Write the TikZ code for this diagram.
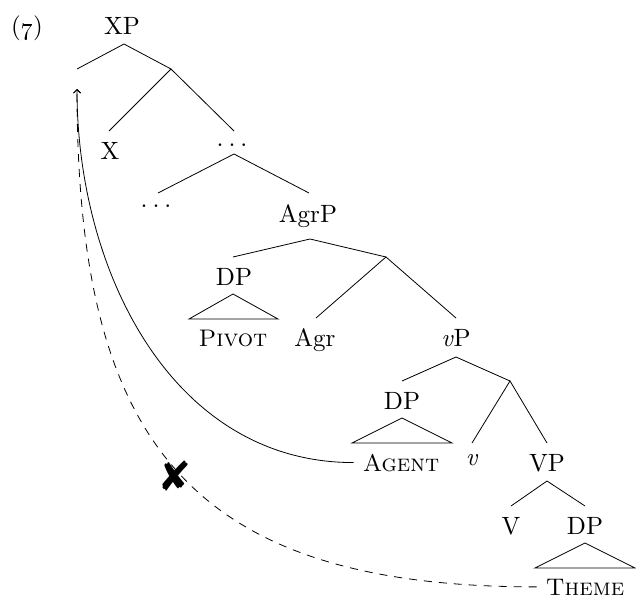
\documentclass[tikz,border=0pt]{standalone}
\usepackage{graphicx}
\usepackage{pifont}
\usetikzlibrary{arrows.meta}
\newcommand{\bigt}[1]{\scalebox{2.5}{\fontsize{10}{12}\selectfont #1}}
\newcommand{\bigsc}[1]{\scalebox{2.4}{\fontsize{10}{12}\selectfont\scshape #1}}
\newcommand{\tdots}{.\kern2pt.\kern2pt.}
\begin{document}
\begin{tikzpicture}[x=1pt,y=1pt,
  lbl/.style={inner sep=0pt, anchor=base},
  edge/.style={line width=0.8pt},
  roof/.style={line width=0.8pt},
  move/.style={line width=0.8pt,-{Straight Barb[length=3.5pt,width=7pt]}},
  badmove/.style={line width=0.8pt,-{Straight Barb[length=3.5pt,width=7pt]},dash pattern=on 8pt off 7pt}]
\useasboundingbox (0,0) rectangle (636,-594);
% labels
\node[lbl] (ex) at (27,-35) {\bigt{(\oldstylenums{7})}};
\node[lbl] (XP) at (122,-35) {\bigt{XP}};
\node[lbl] (X) at (110,-159) {\bigt{X}};
\node[lbl] (dotsA) at (232,-146) {\bigt{\tdots}};
\node[lbl] (dotsB) at (156,-207) {\bigt{\tdots}};
\node[lbl] (AgrP) at (308,-222) {\bigt{AgrP}};
\node[lbl] (DPa) at (234,-285) {\bigt{DP}};
\node[lbl] (Pivot) at (233,-346) {\bigsc{Pivot}};
\node[lbl] (Agr) at (315,-346) {\bigt{Agr}};
\node[lbl] (vP) at (456,-346) {\bigt{\textit{v}P}};
\node[lbl] (DPb) at (402,-409) {\bigt{DP}};
\node[lbl] (Agent) at (401,-471) {\bigsc{Agent}};
\node[lbl] (v) at (472,-465) {\bigt{\textit{v}}};
\node[lbl] (VP) at (547,-471) {\bigt{VP}};
\node[lbl] (V) at (511,-534) {\bigt{V}};
\node[lbl] (DPc) at (585,-534) {\bigt{DP}};
\node[lbl] (Theme) at (585,-595) {\bigsc{Theme}};
% attachment points
\coordinate (XPb) at (124,-44);
\coordinate (spec) at (77,-69);
\coordinate (gap) at (77,-89);
\coordinate (Xbar) at (171,-69);
\coordinate (Xt) at (109,-131);
\coordinate (dAt) at (234,-131);
\coordinate (dAb) at (234,-154);
\coordinate (dBt) at (158,-193);
\coordinate (AgrPt) at (309,-193);
\coordinate (AgrPb) at (310,-239);
\coordinate (DPat) at (233,-257);
\coordinate (DPab) at (233,-294);
\coordinate (PivL) at (189,-319);
\coordinate (PivR) at (278,-319);
\coordinate (Agrbar) at (386,-257);
\coordinate (Agrt) at (316,-318);
\coordinate (vPt) at (456,-318);
\coordinate (vPb) at (456,-357);
\coordinate (DPbt) at (402,-381);
\coordinate (DPbb) at (402,-418);
\coordinate (AgL) at (352,-443);
\coordinate (AgR) at (452,-443);
\coordinate (vbar) at (510,-381);
\coordinate (vt) at (472,-443);
\coordinate (VPt) at (547,-443);
\coordinate (VPb) at (547,-481);
\coordinate (Vt) at (511,-506);
\coordinate (DPct) at (585,-506);
\coordinate (DPcb) at (585,-543);
\coordinate (ThL) at (535,-568);
\coordinate (ThR) at (635,-568);
% branches
\draw[edge] (spec) -- (XPb) -- (Xbar);
\draw[edge] (Xt) -- (Xbar) -- (dAt);
\draw[edge] (dBt) -- (dAb) -- (AgrPt);
\draw[edge] (DPat) -- (AgrPb) -- (Agrbar);
\draw[edge] (Agrt) -- (Agrbar) -- (vPt);
\draw[edge] (DPbt) -- (vPb) -- (vbar);
\draw[edge] (vt) -- (vbar) -- (VPt);
\draw[edge] (Vt) -- (VPb) -- (DPct);
% roofs
\draw[roof] (PivL) -- (DPab) -- (PivR) -- cycle;
\draw[roof] (AgL) -- (DPbb) -- (AgR) -- cycle;
\draw[roof] (ThL) -- (DPcb) -- (ThR) -- cycle;
% movement
\draw[move] ([xshift=-9pt]Agent.west) to[out=180,in=270] (gap);
\draw[badmove] ([xshift=-9pt]Theme.west) to[out=180,in=270,looseness=1.32] (gap);
\node[font=\fontsize{42}{44}\selectfont, inner sep=0pt] (star) at (175,-476) {\ding{56}};
\end{tikzpicture}
\end{document}
